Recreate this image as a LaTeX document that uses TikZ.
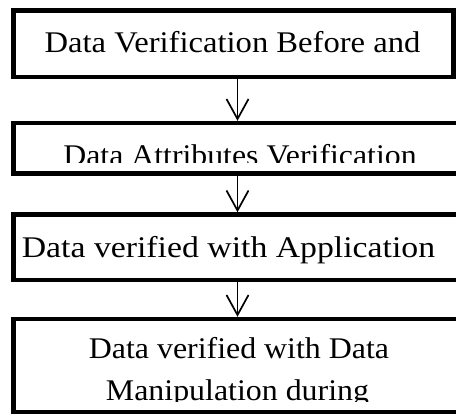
\documentclass[tikz,border=0pt]{standalone}
\usepackage{fontspec}
\setmainfont{Liberation Serif}
\newfontfamily\labelfontA[FakeStretch=1.087]{Liberation Serif}
\newfontfamily\labelfontB[FakeStretch=1.06]{Liberation Serif}
\newfontfamily\labelfontC[FakeStretch=1.125]{Liberation Serif}
\newfontfamily\labelfontD[FakeStretch=1.063]{Liberation Serif}
\usetikzlibrary{arrows.meta}
\tikzset{
  stagebox/.style={draw=black, line width=4.5pt, inner sep=0pt, fill=none},
  stagetext/.style={inner sep=0pt, font=\fontsize{30pt}{42pt}\selectfont, align=center, text=black},
  flowarrow/.style={draw=black, line width=1.7pt, -{Straight Barb[length=20pt,width=22pt,line width=1.7pt]}}
}
\begin{document}
\begin{tikzpicture}[x=1pt,y=-1pt]
  \useasboundingbox (0,0) rectangle (456,416);
  \fill[white] (0,0) rectangle (456,416);

  % stage boxes (the lower three run past the right edge)
  \node[stagebox, minimum width=440pt, minimum height=66.5pt] (b1) at (233.5,43.75) {};
  \node[stagebox, minimum width=456.5pt, minimum height=50.5pt] (b2) at (241.75,148.25) {};
  \node[stagebox, minimum width=456.5pt, minimum height=65.5pt] (b3) at (241.75,247.25) {};
  \node[stagebox, minimum width=456.5pt, minimum height=93pt] (b4) at (241.75,365.5) {};

  % stage labels
  \node[stagetext, anchor=base] (t1) at (232.5,52) {\labelfontA Data Verification Before and};
  \begin{scope}
    \clip (16,126) rectangle (456,162);
    \node[stagetext, anchor=base] (t2) at (240,165) {\labelfontB Data Attributes Verification};
  \end{scope}
  \node[stagetext, anchor=base] (t3) at (228.5,257) {\labelfontC Data verified with Application};
  \begin{scope}
    \clip (16,322) rectangle (456,401);
    \node[stagetext, anchor=base] (t4a) at (239,358) {\labelfontD Data verified with Data};
    \node[stagetext, anchor=base] (t4b) at (237.5,400) {\labelfontD Manipulation during};
  \end{scope}

  % connectors
  \coordinate (ax) at (237.5,0);
  \draw[flowarrow] (b1.south -| ax) -- (b2.north -| ax);
  \draw[flowarrow] (b2.south -| ax) -- (b3.north -| ax);
  \draw[flowarrow] (b3.south -| ax) -- (b4.north -| ax);
\end{tikzpicture}
\end{document}
